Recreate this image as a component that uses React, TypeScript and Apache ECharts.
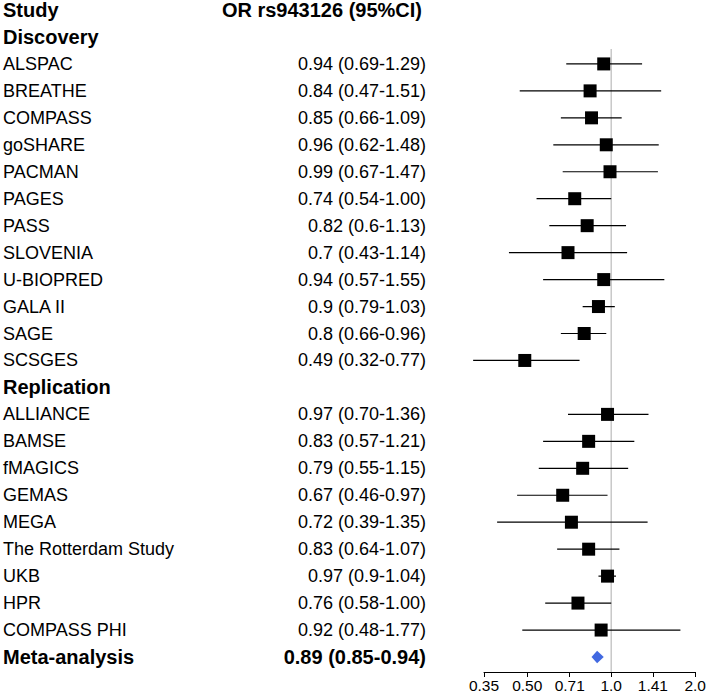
import React, { useEffect, useRef } from "react";
import * as echarts from "echarts";

const discoveryNames = ["ALSPAC", "BREATHE", "COMPASS", "goSHARE", "PACMAN", "PAGES", "PASS", "SLOVENIA", "U-BIOPRED", "GALA II", "SAGE", "SCSGES"];
const discoveryOR = [0.94, 0.84, 0.85, 0.96, 0.99, 0.74, 0.82, 0.7, 0.94, 0.9, 0.8, 0.49];
const discoveryLo = [0.69, 0.47, 0.66, 0.62, 0.67, 0.54, 0.6, 0.43, 0.57, 0.79, 0.66, 0.32];
const discoveryHi = [1.29, 1.51, 1.09, 1.48, 1.47, 1.0, 1.13, 1.14, 1.55, 1.03, 0.96, 0.77];
const discoveryText = ["0.94 (0.69-1.29)", "0.84 (0.47-1.51)", "0.85 (0.66-1.09)", "0.96 (0.62-1.48)", "0.99 (0.67-1.47)", "0.74 (0.54-1.00)", "0.82 (0.6-1.13)", "0.7 (0.43-1.14)", "0.94 (0.57-1.55)", "0.9 (0.79-1.03)", "0.8 (0.66-0.96)", "0.49 (0.32-0.77)"];

const replicationNames = ["ALLIANCE", "BAMSE", "fMAGICS", "GEMAS", "MEGA", "The Rotterdam Study", "UKB", "HPR", "COMPASS PHI"];
const replicationOR = [0.97, 0.83, 0.79, 0.67, 0.72, 0.83, 0.97, 0.76, 0.92];
const replicationLo = [0.7, 0.57, 0.55, 0.46, 0.39, 0.64, 0.9, 0.58, 0.48];
const replicationHi = [1.36, 1.21, 1.15, 0.97, 1.35, 1.07, 1.04, 1.0, 1.77];
const replicationText = ["0.97 (0.70-1.36)", "0.83 (0.57-1.21)", "0.79 (0.55-1.15)", "0.67 (0.46-0.97)", "0.72 (0.39-1.35)", "0.83 (0.64-1.07)", "0.97 (0.9-1.04)", "0.76 (0.58-1.00)", "0.92 (0.48-1.77)"];

const metaName = "Meta-analysis";
const metaOR = 0.89;
const metaLo = 0.85;
const metaHi = 0.94;
const metaText = "0.89 (0.85-0.94)";

const headerName = "Study";
const headerValue = "OR rs943126 (95%CI)";
const groupNames = ["Discovery", "Replication"];

const xTickValues = [0.35, 0.5, 0.71, 1.0, 1.41, 2.0];
const xTickLabels = ["0.35", "0.50", "0.71", "1.0", "1.41", "2.0"];

type Row = { name: string; text: string; bold: boolean; kind: "header" | "study" | "meta"; or?: number; lo?: number; hi?: number };

function buildRows(): Row[] {
  const rows: Row[] = [];
  rows.push({ name: headerName, text: headerValue, bold: true, kind: "header" });
  rows.push({ name: groupNames[0], text: "", bold: true, kind: "header" });
  discoveryNames.forEach((n, i) => rows.push({ name: n, text: discoveryText[i], bold: false, kind: "study", or: discoveryOR[i], lo: discoveryLo[i], hi: discoveryHi[i] }));
  rows.push({ name: groupNames[1], text: "", bold: true, kind: "header" });
  replicationNames.forEach((n, i) => rows.push({ name: n, text: replicationText[i], bold: false, kind: "study", or: replicationOR[i], lo: replicationLo[i], hi: replicationHi[i] }));
  rows.push({ name: metaName, text: metaText, bold: true, kind: "meta", or: metaOR, lo: metaLo, hi: metaHi });
  return rows;
}

const L2 = (v: number) => Math.log2(v);

export default function App() {
  const ref = useRef<HTMLDivElement>(null);
  useEffect(() => {
    document.body.style.margin = "0";
    const chart = echarts.init(ref.current!, undefined, { renderer: "svg" });
    const rows = buildRows();
    const font = "'Liberation Sans', Arial, Helvetica, sans-serif";
    const rowIdx = rows.map((_, i) => i);
    const yMax = 24.556;
    const xMin = L2(xTickValues[0]);
    const xMax = L2(xTickValues[xTickValues.length - 1]);
    const data: any[] = [];
    rows.forEach((r, i) => {
      if (r.kind === "study" || r.kind === "meta") {
        data.push([L2(r.lo!), L2(r.hi!), L2(r.or!), i, r.kind === "meta" ? 1 : 0]);
      }
    });
    const labelFor = (v: number, field: "name" | "text") => {
      const r = rows[Math.round(v)];
      if (!r) return "";
      const s = r[field];
      if (!s) return "";
      if (field === "text" && r.kind === "header") return `{h|${s}}`;
      return r.bold ? `{b|${s}}` : `{n|${s}}`;
    };
    const rich = {
      n: { fontSize: 18, fontFamily: font, color: "#000" },
      b: { fontSize: 20, fontWeight: "bold", fontFamily: font, color: "#000" },
      h: { fontSize: 20, fontWeight: "bold", fontFamily: font, color: "#000", padding: [0, 4, 0, 0] },
    };
    chart.setOption({
      animation: false,
      backgroundColor: "#fff",
      grid: { left: 484, right: 10, top: 9, bottom: 22 },
      xAxis: {
        type: "value",
        position: "bottom",
        min: xMin,
        max: xMax,
        splitLine: { show: false },
        axisLine: { show: true, onZero: false, lineStyle: { color: "#000", width: 1 } },
        axisTick: { show: true, length: 5, customValues: xTickValues.map(L2), lineStyle: { color: "#000", width: 1 } },
        axisLabel: {
          customValues: xTickValues.map(L2),
          fontSize: 15.5,
          fontFamily: font,
          color: "#000",
          margin: 5,
          formatter: (v: number) => {
            let best = 0;
            xTickValues.forEach((t, i) => {
              if (Math.abs(L2(t) - v) < Math.abs(L2(xTickValues[best]) - v)) best = i;
            });
            return xTickLabels[best];
          },
        },
      },
      yAxis: [
        {
          type: "value",
          inverse: true,
          min: 0,
          max: yMax,
          position: "left",
          splitLine: { show: false },
          axisLine: { show: false },
          axisTick: { show: false },
          axisLabel: {
            customValues: rowIdx,
            align: "left",
            margin: 481,
            formatter: (v: number) => labelFor(v, "name"),
            rich,
          },
        },
        {
          type: "value",
          inverse: true,
          min: 0,
          max: yMax,
          position: "left",
          splitLine: { show: false },
          axisLine: { show: false },
          axisTick: { show: false },
          axisLabel: {
            customValues: rowIdx,
            align: "right",
            margin: 58,
            formatter: (v: number) => labelFor(v, "text"),
            rich,
          },
        },
      ],
      series: [
        {
          type: "line",
          data: [[0, 1.45], [0, yMax]],
          symbol: "none",
          lineStyle: { color: "#c8c8c8", width: 1.5 },
          silent: true,
          z: 1,
        },
        {
          type: "custom",
          clip: false,
          z: 5,
          data,
          renderItem: (params: any, api: any) => {
            const lo = api.value(0), hi = api.value(1), est = api.value(2), row = api.value(3), meta = api.value(4);
            const p1 = api.coord([lo, row]);
            const p2 = api.coord([hi, row]);
            const c = api.coord([est, row]);
            if (meta === 1) {
              return {
                type: "polygon",
                shape: { points: [[p1[0], c[1]], [c[0], c[1] - 6.2], [p2[0], c[1]], [c[0], c[1] + 6.2]] },
                style: { fill: "#4169E1" },
              };
            }
            const s = 13;
            return {
              type: "group",
              children: [
                { type: "line", shape: { x1: p1[0], y1: p1[1], x2: p2[0], y2: p2[1] }, style: { stroke: "#000", lineWidth: 1.2 } },
                { type: "rect", shape: { x: c[0] - s / 2, y: c[1] - s / 2, width: s, height: s }, style: { fill: "#000" } },
              ],
            };
          },
        },
      ],
    });
    return () => chart.dispose();
  }, []);
  return <div ref={ref} style={{ width: 709, height: 694 }} />;
}
